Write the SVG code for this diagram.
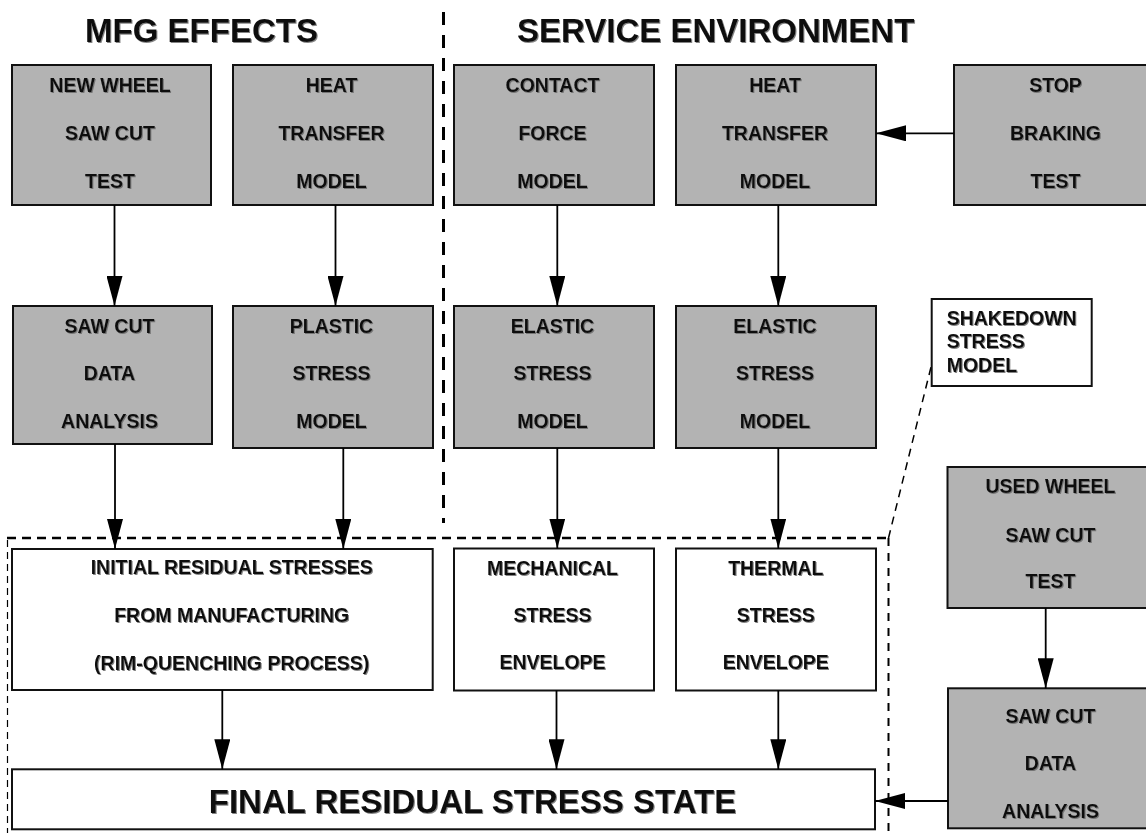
<svg xmlns="http://www.w3.org/2000/svg" width="1146" height="833" viewBox="0 0 1146 833">
<style>
.box{fill:#b3b3b3;stroke:#111;stroke-width:2}
.wbox{fill:#fff;stroke:#111;stroke-width:2}
text{font-family:"Liberation Sans",Arial,sans-serif;font-weight:bold;fill:#111;filter:url(#sh)}
.t{font-size:19.5px;text-anchor:middle}
.tl{font-size:19.5px;text-anchor:start}
.title{font-size:33px;text-anchor:middle}
.conn line{stroke:#000;stroke-width:1.8;marker-end:url(#ah)}
.dash{fill:none;stroke:#000}
</style>
<defs>
<filter id="sh" x="-5%" y="-20%" width="110%" height="140%">
<feDropShadow dx="1" dy="1" stdDeviation="0.6" flood-color="#666" flood-opacity="0.8"/>
</filter>
<marker id="ah" markerUnits="userSpaceOnUse" markerWidth="30" markerHeight="16" refX="30" refY="8" orient="auto">
<path d="M0,0 L30,8 L0,16 z" fill="#000"/>
</marker>
</defs>
<rect width="1146" height="833" fill="#fff"/>

<g id="titles">
<text class="title" x="201.5" y="41.7">MFG EFFECTS</text>
<text class="title" x="715.7" y="41.7">SERVICE ENVIRONMENT</text>
</g>

<g id="dashed">
<line class="dash" x1="443.5" y1="12" x2="443.5" y2="523" stroke-width="3" stroke-dasharray="13 10"/>
<line class="dash" x1="7" y1="538" x2="888" y2="538" stroke-width="2.5" stroke-dasharray="9 6"/>
<line class="dash" x1="7.5" y1="540" x2="7.5" y2="833" stroke-width="1.2" stroke-dasharray="7 5"/>
<line class="dash" x1="888.5" y1="538" x2="888.5" y2="833" stroke-width="2" stroke-dasharray="8 7"/>
<line class="dash" x1="888.5" y1="538" x2="934" y2="355" stroke-width="1.5" stroke-dasharray="8 6"/>
</g>

<g id="new-wheel-test">
<rect class="box" x="12" y="65" width="199" height="140"/>
<text class="t" x="110" y="92">NEW WHEEL</text>
<text class="t" x="110" y="140">SAW CUT</text>
<text class="t" x="110" y="187.7">TEST</text>
</g>
<g id="mfg-heat-transfer">
<rect class="box" x="233" y="65" width="200" height="140"/>
<text class="t" x="331.5" y="92">HEAT</text>
<text class="t" x="331.5" y="140">TRANSFER</text>
<text class="t" x="331.5" y="187.7">MODEL</text>
</g>
<g id="contact-force">
<rect class="box" x="454" y="65" width="200" height="140"/>
<text class="t" x="552.5" y="92">CONTACT</text>
<text class="t" x="552.5" y="140">FORCE</text>
<text class="t" x="552.5" y="187.7">MODEL</text>
</g>
<g id="svc-heat-transfer">
<rect class="box" x="676" y="65" width="200" height="140"/>
<text class="t" x="775" y="92">HEAT</text>
<text class="t" x="775" y="140">TRANSFER</text>
<text class="t" x="775" y="187.7">MODEL</text>
</g>
<g id="stop-braking">
<rect class="box" x="954" y="65" width="204" height="140"/>
<text class="t" x="1055.5" y="92">STOP</text>
<text class="t" x="1055.5" y="140">BRAKING</text>
<text class="t" x="1055.5" y="187.7">TEST</text>
</g>

<g id="saw-cut-analysis">
<rect class="box" x="13" y="306" width="199" height="138"/>
<text class="t" x="109.5" y="333.3">SAW CUT</text>
<text class="t" x="109.5" y="380">DATA</text>
<text class="t" x="109.5" y="427.7">ANALYSIS</text>
</g>
<g id="plastic-stress">
<rect class="box" x="233" y="306" width="200" height="142"/>
<text class="t" x="331.5" y="333.3">PLASTIC</text>
<text class="t" x="331.5" y="380">STRESS</text>
<text class="t" x="331.5" y="427.7">MODEL</text>
</g>
<g id="elastic-stress-1">
<rect class="box" x="454" y="306" width="200" height="142"/>
<text class="t" x="552.5" y="333.3">ELASTIC</text>
<text class="t" x="552.5" y="380">STRESS</text>
<text class="t" x="552.5" y="427.7">MODEL</text>
</g>
<g id="elastic-stress-2">
<rect class="box" x="676" y="306" width="200" height="142"/>
<text class="t" x="775" y="333.3">ELASTIC</text>
<text class="t" x="775" y="380">STRESS</text>
<text class="t" x="775" y="427.7">MODEL</text>
</g>
<g id="shakedown">
<rect class="wbox" x="931.7" y="299" width="160" height="87" stroke-width="1.6"/>
<text class="tl" x="946.7" y="325">SHAKEDOWN</text>
<text class="tl" x="946.7" y="348.3">STRESS</text>
<text class="tl" x="946.7" y="371.7">MODEL</text>
</g>

<g id="initial-residual">
<rect class="wbox" x="12" y="549" width="420.7" height="141"/>
<text class="t" x="231.7" y="574.3">INITIAL RESIDUAL STRESSES</text>
<text class="t" x="231.7" y="622.3">FROM MANUFACTURING</text>
<text class="t" x="231.7" y="670">(RIM-QUENCHING PROCESS)</text>
</g>
<g id="mechanical-envelope">
<rect class="wbox" x="454" y="548.5" width="200" height="142"/>
<text class="t" x="552.5" y="575">MECHANICAL</text>
<text class="t" x="552.5" y="622.3">STRESS</text>
<text class="t" x="552.5" y="669.3">ENVELOPE</text>
</g>
<g id="thermal-envelope">
<rect class="wbox" x="676" y="548.5" width="200" height="142"/>
<text class="t" x="775.8" y="575">THERMAL</text>
<text class="t" x="775.8" y="622.3">STRESS</text>
<text class="t" x="775.8" y="669.3">ENVELOPE</text>
</g>
<g id="used-wheel-test">
<rect class="box" x="947.5" y="467" width="206" height="141"/>
<text class="t" x="1050.5" y="493.3">USED WHEEL</text>
<text class="t" x="1050.5" y="541.7">SAW CUT</text>
<text class="t" x="1050.5" y="588.3">TEST</text>
</g>
<g id="used-saw-cut-analysis">
<rect class="box" x="948" y="688.3" width="206" height="140"/>
<text class="t" x="1050.5" y="723.3">SAW CUT</text>
<text class="t" x="1050.5" y="770">DATA</text>
<text class="t" x="1050.5" y="818.3">ANALYSIS</text>
</g>
<g id="final-state">
<rect class="wbox" x="12" y="769.3" width="863" height="60"/>
<text class="title" x="472.5" y="812.5">FINAL RESIDUAL STRESS STATE</text>
</g>

<g class="conn" id="connectors">
<line x1="114.5" y1="205" x2="114.5" y2="306"/>
<line x1="335.5" y1="205" x2="335.5" y2="306"/>
<line x1="557.3" y1="205" x2="557.3" y2="306"/>
<line x1="778.3" y1="205" x2="778.3" y2="306"/>
<line x1="954" y1="133.3" x2="876" y2="133.3"/>
<line x1="115" y1="444" x2="115" y2="549"/>
<line x1="343.3" y1="448" x2="343.3" y2="549"/>
<line x1="557.3" y1="448" x2="557.3" y2="548.5"/>
<line x1="778.3" y1="448" x2="778.3" y2="548.5"/>
<line x1="222.3" y1="690" x2="222.3" y2="769.3"/>
<line x1="556.5" y1="690.5" x2="556.5" y2="769.3"/>
<line x1="778.3" y1="690.5" x2="778.3" y2="769.3"/>
<line x1="1045.7" y1="608" x2="1045.7" y2="688.3"/>
<line x1="948" y1="801" x2="875" y2="801"/>
</g>
</svg>
